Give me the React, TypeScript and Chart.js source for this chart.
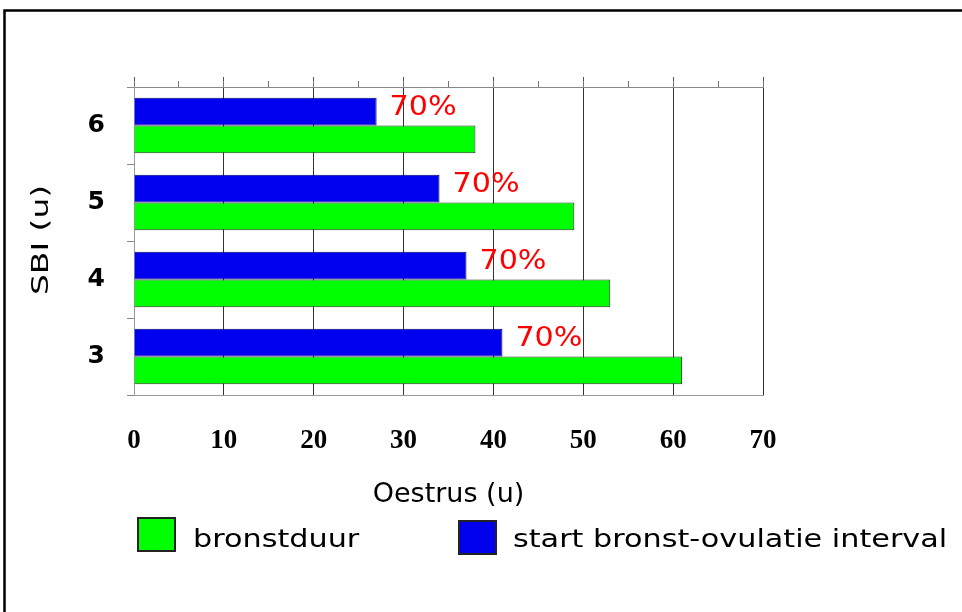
import React, { useEffect, useRef } from "react";
import { Chart, registerables } from "chart.js";

Chart.register(...registerables);

const categories = ["6", "5", "4", "3"];
const startOvulatie = [27, 34, 37, 41];
const bronstduur = [38, 49, 53, 61];
const pctLabels = ["70%", "70%", "70%", "70%"];
const seriesNames = ["start bronst-ovulatie interval", "bronstduur"];
const xTitle = "Oestrus (u)";
const yTitle = "SBI (u)";

const BLUE = "#0000ee";
const GREEN = "#00ff00";

function drawText(
  ctx: CanvasRenderingContext2D,
  text: string,
  x: number,
  y: number,
  font: string,
  color: string,
  align: CanvasTextAlign,
  baseline: CanvasTextBaseline,
  sx: number,
  sy: number,
  rot: number
) {
  ctx.save();
  ctx.translate(x, y);
  if (rot) ctx.rotate(rot);
  ctx.scale(sx, sy);
  ctx.font = font;
  ctx.fillStyle = color;
  ctx.textAlign = align;
  ctx.textBaseline = baseline;
  ctx.fillText(text, 0, 0);
  ctx.restore();
}

const decorPlugin = {
  id: "decor",
  beforeDraw(chart: any) {
    const ctx = chart.ctx;
    ctx.save();
    ctx.fillStyle = "#ffffff";
    ctx.fillRect(0, 0, chart.width, chart.height);
    ctx.restore();
  },
  afterDraw(chart: any) {
    const ctx: CanvasRenderingContext2D = chart.ctx;
    // outer frame
    ctx.save();
    ctx.strokeStyle = "#000000";
    ctx.lineWidth = 2.5;
    ctx.strokeRect(4.5, 10.5, 1200, 1200);
    ctx.restore();

    // percentage labels next to blue bars
    const meta = chart.getDatasetMeta(0);
    meta.data.forEach((el: any, i: number) => {
      drawText(ctx, pctLabels[i], el.x + 13, el.y - 3, '26px "DejaVu Sans"', "#ff0000", "left", "middle", 1.16, 1, 0);
    });

    // y axis title
    drawText(ctx, yTitle, 42, 240, '23px "DejaVu Sans"', "#000000", "center", "middle", 1.43, 1, -Math.PI / 2);

    // legend: green first, then blue
    const ds = chart.data.datasets;
    const items = [
      { box: [137, 517], text: [193, 547], d: ds[1] },
      { box: [458, 520], text: [513, 547], d: ds[0] },
    ];
    items.forEach((it) => {
      ctx.save();
      ctx.fillStyle = it.d.backgroundColor;
      ctx.fillRect(it.box[0], it.box[1], 39, 35);
      ctx.strokeStyle = "#222222";
      ctx.lineWidth = 2;
      ctx.strokeRect(it.box[0] + 1, it.box[1] + 1, 37, 33);
      ctx.restore();
      drawText(ctx, it.d.label, it.text[0], it.text[1], '25px "DejaVu Sans"', "#000000", "left", "alphabetic", 1.21, 1, 0);
    });
  },
};

export default function App() {
  const ref = useRef<HTMLCanvasElement | null>(null);
  useEffect(() => {
    document.body.style.margin = "0";
    const canvas = ref.current!;
    const chart = new Chart(canvas, {
      type: "bar",
      data: {
        labels: categories,
        datasets: [
          {
            label: seriesNames[0],
            data: startOvulatie,
            backgroundColor: BLUE,
            borderColor: "#00006a",
            borderWidth: 1,
            categoryPercentage: 0.72,
            barPercentage: 1.0,
          },
          {
            label: seriesNames[1],
            data: bronstduur,
            backgroundColor: GREEN,
            borderColor: "#1a3a1a",
            borderWidth: 1,
            categoryPercentage: 0.72,
            barPercentage: 1.0,
          },
        ],
      },
      options: {
        indexAxis: "y",
        responsive: false,
        animation: false,
        devicePixelRatio: 1,
        layout: { padding: { top: 87, right: 199, bottom: 0, left: 0 } },
        plugins: {
          legend: { display: false },
          tooltip: { enabled: false },
        },
        scales: {
          x: {
            type: "linear",
            position: "bottom",
            min: 0,
            max: 70,
            ticks: {
              stepSize: 10,
              maxRotation: 0,
              padding: 30,
              color: "#000000",
              font: { family: '"Liberation Serif"', size: 27, weight: "bold" },
            },
            grid: {
              display: true,
              drawOnChartArea: true,
              drawTicks: false,
              color: (c: any) => (c.tick && c.tick.value === 0 ? "rgba(0,0,0,0)" : "#333333"),
              lineWidth: 1,
            },
            border: { display: true, color: "#999999", width: 1 },
            title: {
              display: true,
              text: xTitle,
              color: "#000000",
              font: { family: '"DejaVu Sans"', size: 27 },
              padding: { top: 0, bottom: 101 },
            },
            afterFit: (axis: any) => {
              axis.height = 217;
            },
          },
          x2: {
            type: "linear",
            position: "top",
            min: 0,
            max: 70,
            ticks: { stepSize: 10, display: false },
            grid: {
              display: true,
              drawOnChartArea: false,
              drawTicks: true,
              tickLength: 10,
              tickColor: "#555555",
            },
            border: { display: true, color: "#888888", width: 1 },
            afterFit: (axis: any) => {
              axis.height = 0;
            },
          },
          x3: {
            type: "linear",
            position: "top",
            min: 0,
            max: 70,
            ticks: { stepSize: 5, display: false },
            grid: {
              display: true,
              drawOnChartArea: false,
              drawTicks: true,
              tickLength: 6,
              tickColor: "#777777",
            },
            border: { display: false },
            afterFit: (axis: any) => {
              axis.height = 0;
            },
          },
          y: {
            type: "category",
            position: "left",
            ticks: {
              padding: 22,
              color: "#000000",
              font: { family: '"DejaVu Sans"', size: 25, weight: "bold" },
            },
            grid: {
              display: true,
              drawOnChartArea: false,
              drawTicks: true,
              offset: true,
              tickLength: 7,
              tickColor: "#888888",
            },
            border: { display: true, color: "#999999", width: 1 },
            afterFit: (axis: any) => {
              axis.width = 134;
            },
          },
        },
      } as any,
      plugins: [decorPlugin],
    });
    return () => chart.destroy();
  }, []);
  return <canvas ref={ref} width={962} height={612} style={{ display: "block" }} />;
}
